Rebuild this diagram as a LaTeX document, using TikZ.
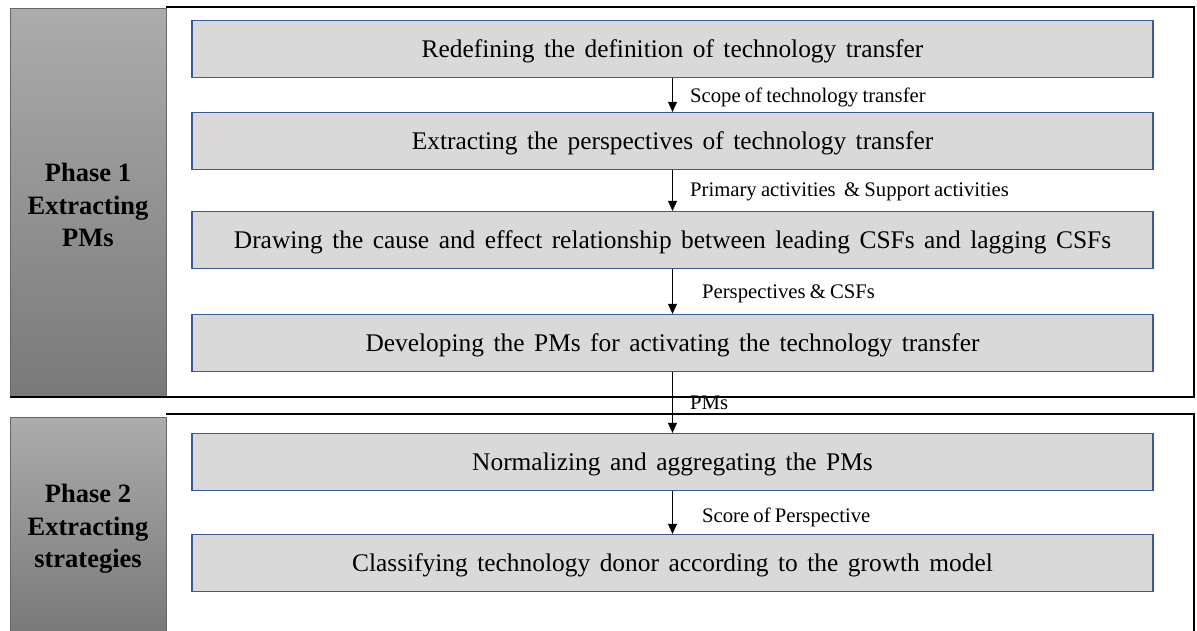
\documentclass[tikz,border=0pt]{standalone}
\usepackage{fontspec}
\setmainfont{Liberation Serif}
\usetikzlibrary{arrows.meta}
\newcommand\stepfont{\fontsize{25.4}{30}\selectfont\spaceskip 9.5pt\relax}
\newcommand\labelfont{\fontsize{20.7}{24}\selectfont\spaceskip 4.2pt\relax}
\begin{document}
\begin{tikzpicture}[x=1pt,y=-1pt,
  stepbox/.style={draw=boxblue, line width=1.3pt, fill=boxgray, minimum width=961pt,
    minimum height=57pt, inner sep=0pt, text height=17pt, text depth=0pt, font=\stepfont},
  phasetext/.style={font=\fontsize{26.5}{32.5}\selectfont\bfseries, align=center},
  frame/.style={draw=black, line width=1.4pt},
  flow/.style={-{Triangle[length=10pt,width=9pt]}, line width=0.6pt},
  flowlabel/.style={font=\labelfont, anchor=west}
]
\definecolor{boxblue}{HTML}{3A5A9C}
\definecolor{boxgray}{HTML}{D9D9D9}
\useasboundingbox (0,0) rectangle (1197,630);

% phase panels
\shade[top color=gray!65, bottom color=gray!95!black] (10,8) rectangle (166,397);
\draw[black!60, line width=0.8pt] (10,8) rectangle (166,397);
\shade[top color=gray!65, bottom color=gray!95!black] (10,417) rectangle (166,632);
\draw[black!60, line width=0.8pt] (10,632) -- (10,417) -- (166,417) -- (166,632);

% frames
\draw[frame] (166,7) -- (1194,7) -- (1194,397) -- (10,397);
\draw[frame] (166,414) -- (1194,414) -- (1194,632);

\node[phasetext] (p1) at (88,205) {Phase 1\\Extracting\\PMs};
\node[phasetext] (p2) at (88,529) {Phase 2\\Extracting\\strategies};

% process steps
\node[stepbox] (s1) at (672.5,49)  {Redefining the definition of technology transfer};
\node[stepbox] (s2) at (672.5,141) {Extracting the perspectives of technology transfer};
\node[stepbox] (s3) at (672.5,240) {Drawing the cause and effect relationship between leading CSFs and lagging CSFs};
\node[stepbox] (s4) at (672.5,343) {Developing the PMs for activating the technology transfer};
\node[stepbox] (s5) at (672.5,462) {Normalizing and aggregating the PMs};
\node[stepbox] (s6) at (672.5,563) {Classifying technology donor according to the growth model};

% connectors
\draw[flow] (s1.south) -- (s2.north) node[midway, flowlabel, xshift=14pt, yshift=-2pt] {Scope of technology transfer};
\draw[flow] (s2.south) -- (s3.north) node[midway, flowlabel, xshift=14pt, yshift=-1pt] {Primary activities \ \& Support activities};
\draw[flow] (s3.south) -- (s4.north) node[midway, flowlabel, xshift=26pt, yshift=-2pt] {Perspectives \& CSFs};
\draw[flow] (s4.south) -- (s5.north) node[midway, flowlabel, xshift=14pt] {PMs};
\draw[flow] (s5.south) -- (s6.north) node[midway, flowlabel, xshift=26pt, yshift=-5pt] {Score of Perspective};
\end{tikzpicture}
\end{document}
